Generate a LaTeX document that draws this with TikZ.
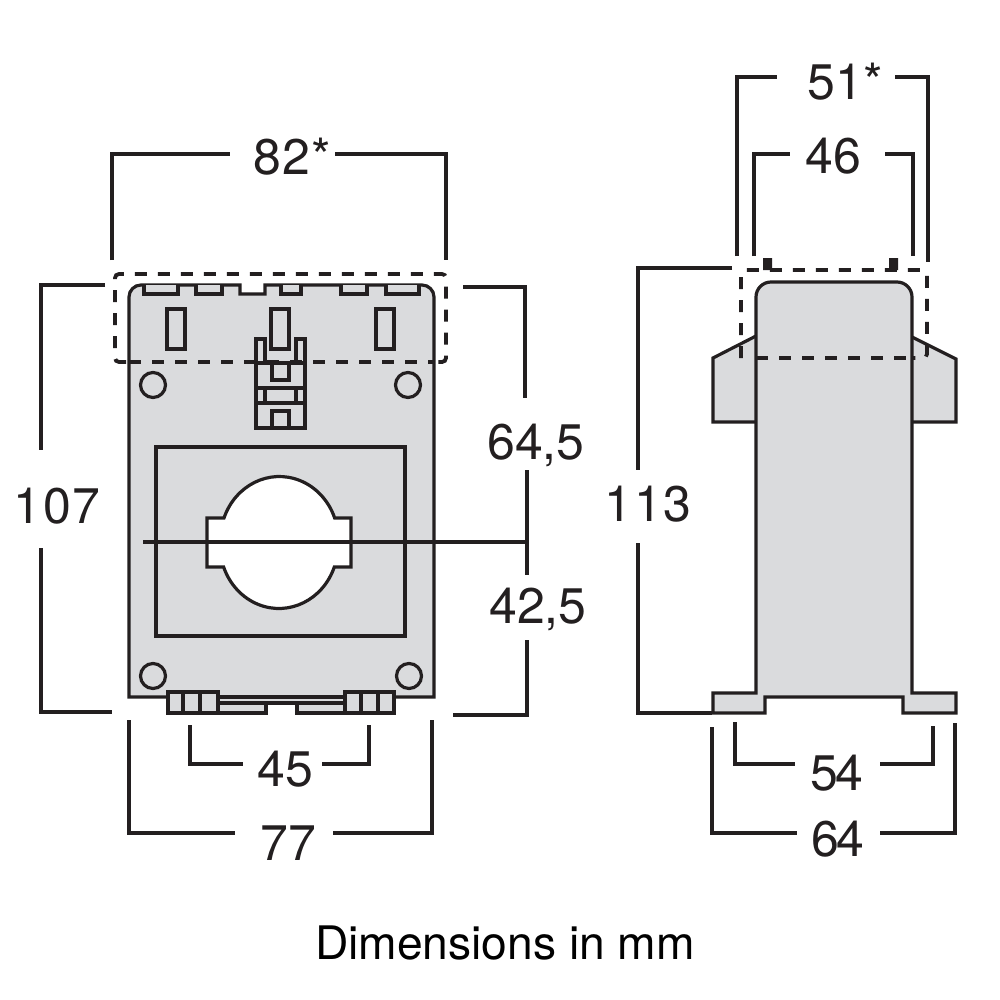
\documentclass[tikz,border=0pt]{standalone}
\usepackage{fontspec}
\setmainfont{TeX Gyre Heros}
\definecolor{ink}{HTML}{231F20}
\definecolor{body}{HTML}{DADBDD}
\tikzset{
  part/.style={draw=ink,line width=3.2pt,fill=body,line join=miter},
  hole/.style={draw=ink,line width=3.2pt,fill=white,line join=miter},
  edge/.style={draw=ink,line width=3.2pt},
  dim/.style={draw=ink,line width=3.1pt,line join=miter},
  envelope/.style={draw=ink,line width=3.8pt,dash pattern=on 12pt off 11pt,rounded corners=4pt},
  dimtext/.style={anchor=base,text=ink,inner sep=0pt,font=\fontsize{50}{60}\selectfont},
  captiontext/.style={anchor=base,text=black,inner sep=0pt,font=\fontsize{46.2}{55}\selectfont}
}
\begin{document}
\begin{tikzpicture}[x=1pt,y=-1pt]
\useasboundingbox (0,0) rectangle (1000,1000);
\fill[white] (0,0) rectangle (1000,1000);
% ---- front view ----
\draw[part] (129,697) -- (129,297) arc[start angle=180,end angle=270,radius=12] -- (240,285) -- (240,294) -- (265,294) -- (265,285) -- (422,285) arc[start angle=270,end angle=360,radius=12] -- (434,697) -- cycle;
\foreach \a/\b in {144/178,196/222,281/301,341/367,386/419}
  \draw[part] (\a,285) -- (\a,294) -- (\b,294) -- (\b,285);
\foreach \a in {167,271,376}
  \draw[part] (\a,309) rectangle +(18,40);
% clip
\draw[part] (256,363) -- (256,339) -- (265,339) -- (265,363);
\draw[part] (296,363) -- (296,339) -- (305,339) -- (305,363);
\draw[part] (256,363) rectangle (305,428);
\draw[part] (272,363) rectangle (289,380);
\draw[edge] (256,388) -- (305,388) (256,403) -- (305,403) (265,388) -- (265,403) (296,388) -- (296,403);
\draw[part] (272,411) rectangle (289,428);
\foreach \a/\b in {153/385,408/385,153/676,409/676}
  \draw[edge,fill=body] (\a,\b) circle[radius=12.5];
% window
\draw[part] (156,447) rectangle (405,636);
\draw[hole] (207,518) -- (224,518) arc[start angle=-159.7,end angle=-20.3,x radius=59,y radius=63.5] -- (351,518) -- (351,567) -- (334.3,567) arc[start angle=20.3,end angle=159.7,x radius=59,y radius=63.5] -- (207,567) -- cycle;
% feet
\draw[part] (218,697) rectangle (345,703);
\draw[part] (218,703) -- (266,703) -- (266,713) -- (218,713);
\draw[part] (345,703) -- (297,703) -- (297,713) -- (345,713);
\draw[part] (168,692) rectangle (218,713);
\draw[part] (345,692) rectangle (394,713);
\draw[edge] (183,692) -- (183,713) (200,692) -- (200,713) (361,692) -- (361,713) (378,692) -- (378,713);
\draw[envelope] (126,362) -- (115,362) -- (115,274) -- (446,274) -- (446,362) -- (434,362);
\draw[envelope,rounded corners=0pt] (129,362) -- (434,362);
\draw[edge] (143,542) -- (527,542);
% ---- side view ----
\draw[part] (756,336) -- (713,358) -- (713,422) -- (756,422);
\draw[part] (912,337) -- (956,359) -- (956,422) -- (912,422);
\draw[part] (756,693) -- (713,693) -- (713,713) -- (765,713) -- (765,697) -- (903,697) -- (903,713) -- (956,713) -- (956,693) -- (912,693) -- (912,297) arc[start angle=0,end angle=-90,radius=15] -- (771,282) arc[start angle=-90,end angle=-180,radius=15] -- cycle;
\fill[ink] (763,258) rectangle (772,270) (889,258) rectangle (898,270);
\draw[envelope] (741,358) -- (741,270) -- (927,270) -- (927,358) -- (912,358);
\draw[envelope,rounded corners=0pt] (756,358) -- (912,358);
% ---- dimension lines ----
\draw[dim] (112,260) -- (112,154) -- (230,154) (335,154) -- (446,154) -- (446,260);
\draw[dim] (105,285) -- (41,285) -- (41,450) (41,548) -- (41,712) -- (112,712);
\draw[dim] (463,287) -- (525,287) -- (525,398) (527,470) -- (527,575) (527,640) -- (527,715) -- (453,715);
\draw[dim] (190,725) -- (190,764) -- (243,764) (322,764) -- (369,764) -- (369,725);
\draw[dim] (129,720) -- (129,833) -- (235,833) (333,833) -- (432,833) -- (432,720);
\draw[dim] (737,256) -- (737,77) -- (777,77) (895,77) -- (928,77) -- (928,262);
\draw[dim] (754,256) -- (754,154) -- (790,154) (885,154) -- (913,154) -- (913,256);
\draw[dim] (732,268) -- (638,268) -- (638,470) (638,543) -- (638,713) -- (712,713);
\draw[dim] (735,722) -- (735,764) -- (795,764) (880,764) -- (933,764) -- (933,726);
\draw[dim] (712,727) -- (712,833) -- (797,833) (880,833) -- (955,833) -- (955,723);
% ---- texts ----
\node[dimtext] (d82) at (292,175) {8\kern1pt 2\kern1pt *};
\node[dimtext] (d107) at (57,523) {1\kern2.5pt 0\kern1.5pt 7};
\node[dimtext] (d645) at (536,459) {64,5};
\node[dimtext] (d425) at (538,623) {42,5};
\node[dimtext] (d45) at (285,786) {45};
\node[dimtext] (d77) at (288,860) {77};
\node[dimtext] (d51) at (845,100) {51*};
\node[dimtext] (d46) at (833,174) {46};
\node[dimtext] (d113) at (648,521) {1\kern2.5pt 1\kern1.5pt 3};
\node[dimtext] (d54) at (837,790) {5\kern-3pt 4};
\node[dimtext] (d64) at (838,856) {6\kern-3pt 4};
\node[captiontext] (cap) at (505,959) {Dimensions in mm};
\end{tikzpicture}
\end{document}
